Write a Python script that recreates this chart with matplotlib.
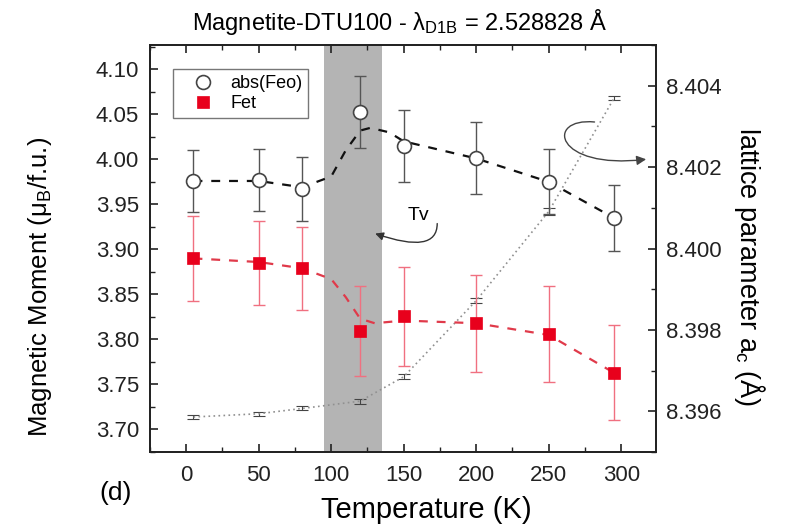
import matplotlib
matplotlib.use("Agg")
import matplotlib.pyplot as plt
from matplotlib.ticker import MultipleLocator, FormatStrFormatter
from matplotlib.patches import FancyArrowPatch
from matplotlib.path import Path

plt.rcParams['font.family'] = ['Liberation Sans', 'DejaVu Sans']
plt.rcParams['mathtext.fontset'] = 'custom'
plt.rcParams['mathtext.rm'] = 'Liberation Sans'
plt.rcParams['mathtext.it'] = 'Liberation Sans'
plt.rcParams['mathtext.bf'] = 'Liberation Sans:bold'

# ---- data ----
temps = [5, 50, 80, 120, 150, 200, 250, 295]
feo = [3.976, 3.977, 3.967, 4.053, 4.015, 4.002, 3.975, 3.935]
feo_err = [0.034, 0.034, 0.036, 0.040, 0.040, 0.040, 0.036, 0.037]
fet = [3.890, 3.885, 3.879, 3.809, 3.826, 3.818, 3.806, 3.763]
fet_err = [0.047, 0.047, 0.046, 0.050, 0.055, 0.054, 0.053, 0.053]
lattice = [8.39586, 8.39594, 8.39607, 8.39625, 8.39685, 8.39872, 8.40091, 8.40369]
lattice_err = [0.00006, 0.00005, 0.00005, 0.00006, 0.00006, 0.00006, 0.00008, 0.00005]

# guide-to-the-eye curves
guide_x = [5, 50, 80, 100, 110, 120, 127, 140, 150, 200, 250, 295]
guide_feo = [3.976, 3.976, 3.969, 3.981, 4.010, 4.032, 4.035, 4.030, 4.020, 4.001, 3.975, 3.935]
guide_xr = [5, 50, 80, 100, 110, 120, 130, 150, 200, 250, 295]
guide_fet = [3.890, 3.886, 3.879, 3.867, 3.847, 3.823, 3.818, 3.821, 3.818, 3.805, 3.763]

tv_span = (95, 135)

fig = plt.figure(figsize=(7.88, 5.27), dpi=100)
ax = fig.add_axes([150 / 788, 0.1423, 506 / 788, 407 / 527])
ax2 = ax.twinx()

ax2.axvspan(tv_span[0], tv_span[1], color='#b4b4b4', zorder=0, lw=0)

# lattice on right axis
ax2.errorbar(temps, lattice, yerr=lattice_err, fmt='none', ecolor='#444444',
             elinewidth=0.8, capsize=4, capthick=0.8, zorder=2)
ax2.plot(temps, lattice, ls=(0, (1, 2)), color='#909090', lw=1.2, zorder=2)

# guide lines
ax.plot(guide_x, guide_feo, ls=(0, (4, 4)), color='#111111', lw=1.6, zorder=3)
ax.plot(guide_xr, guide_fet, ls=(0, (4, 4)), color='#e03a4a', lw=1.6, zorder=3)

ax.errorbar(temps, feo, yerr=feo_err, fmt='none', ecolor='#555555',
            elinewidth=1.0, capsize=4, capthick=1.0, zorder=4)
ax.errorbar(temps, fet, yerr=fet_err, fmt='none', ecolor='#f07080',
            elinewidth=1.0, capsize=4, capthick=1.0, zorder=4)
ax.plot(temps, feo, 'o', ms=10, mfc='white', mec='#444444', mew=1.2, zorder=5,
        label='abs(Feo)')
ax.plot(temps, fet, 's', ms=9, mfc='#e8001c', mec='#e8001c', mew=0.5, zorder=5,
        label='Fet')

ax.set_zorder(ax2.get_zorder() + 1)
ax.patch.set_visible(False)

ax.set_xlim(-25, 324)
ax.set_ylim(3.675, 4.127)
ax2.set_ylim(8.395, 8.405)

ax.xaxis.set_major_locator(MultipleLocator(50))
ax.xaxis.set_minor_locator(MultipleLocator(25))
ax.yaxis.set_major_locator(MultipleLocator(0.05))
ax.yaxis.set_minor_locator(MultipleLocator(0.025))
ax2.yaxis.set_major_locator(MultipleLocator(0.002))
ax2.yaxis.set_minor_locator(MultipleLocator(0.001))
ax.yaxis.set_major_formatter(FormatStrFormatter('%.2f'))
ax2.yaxis.set_major_formatter(FormatStrFormatter('%.3f'))

ax.tick_params(axis='both', which='both', direction='in', top=True, labelsize=16,
               colors='#222222')
ax.tick_params(which='major', length=6, width=1.2)
ax.tick_params(which='minor', length=3.5, width=1.0)
ax.tick_params(axis='y', right=False, pad=8)
ax.tick_params(axis='x', pad=9)
ax2.tick_params(axis='y', which='both', direction='in', labelsize=16, colors='#222222',
                pad=7.5)
ax2.tick_params(which='major', length=6, width=1.2)
ax2.tick_params(which='minor', length=3.5, width=1.0)
for a in (ax, ax2):
    for s in a.spines.values():
        s.set_linewidth(1.3)
        s.set_color('#222222')

ax.set_xlabel('Temperature (K)', fontsize=21, va='center')
ax.xaxis.set_label_coords((426 - 150) / 506, -(510 - 452) / 407)
ax.set_ylabel('Magnetic Moment (μ$_\\mathrm{B}$/f.u.)', fontsize=18.5,
              va='center', ha='center')
ax.yaxis.set_label_coords(-(150 - 40) / 506, (452 - 287) / 407)
ax2.set_ylabel('lattice parameter a$_\\mathrm{c}$ (Å)', fontsize=19.5, rotation=270,
               va='center', ha='center')
ax2.yaxis.set_label_coords((750 - 150) / 506, (452 - 267) / 407)

fig.text(400 / 788, 1 - 22 / 527, 'Magnetite-DTU100 - λ$_\\mathrm{D1B}$ = 2.528828 Å',
         ha='center', va='center', fontsize=17)
fig.text(116 / 788, 1 - 493 / 527, '(d)', ha='center', va='center', fontsize=19)

leg = ax.legend(loc='upper left', bbox_to_anchor=(0.045, 0.94), borderaxespad=0,
                fontsize=13, frameon=True, fancybox=False, edgecolor='#555555',
                handlelength=2.75, handletextpad=0.15, borderpad=0.3,
                labelspacing=0.2)
leg.get_frame().set_linewidth(1.0)

ax.text(160.2, 3.938, 'Tv', fontsize=14, ha='center', va='center')
ax.annotate('', xy=(130.3, 3.9176), xytext=(173.1, 3.9287),
            arrowprops=dict(arrowstyle='-|>', color='#333333', lw=1.0,
                            connectionstyle='angle3,angleA=90,angleB=-19',
                            mutation_scale=12, shrinkA=0, shrinkB=0))

loop = Path([(281.6, 4.0415), (247.1, 4.0467), (254.0, 3.988), (317.2, 4.0001)],
            [Path.MOVETO, Path.CURVE4, Path.CURVE4, Path.CURVE4])
ax.add_patch(FancyArrowPatch(path=loop, arrowstyle='-|>', color='#444444', lw=1.0,
                             mutation_scale=14, transform=ax.transData, zorder=6))

fig.savefig('out.png', dpi=100)
